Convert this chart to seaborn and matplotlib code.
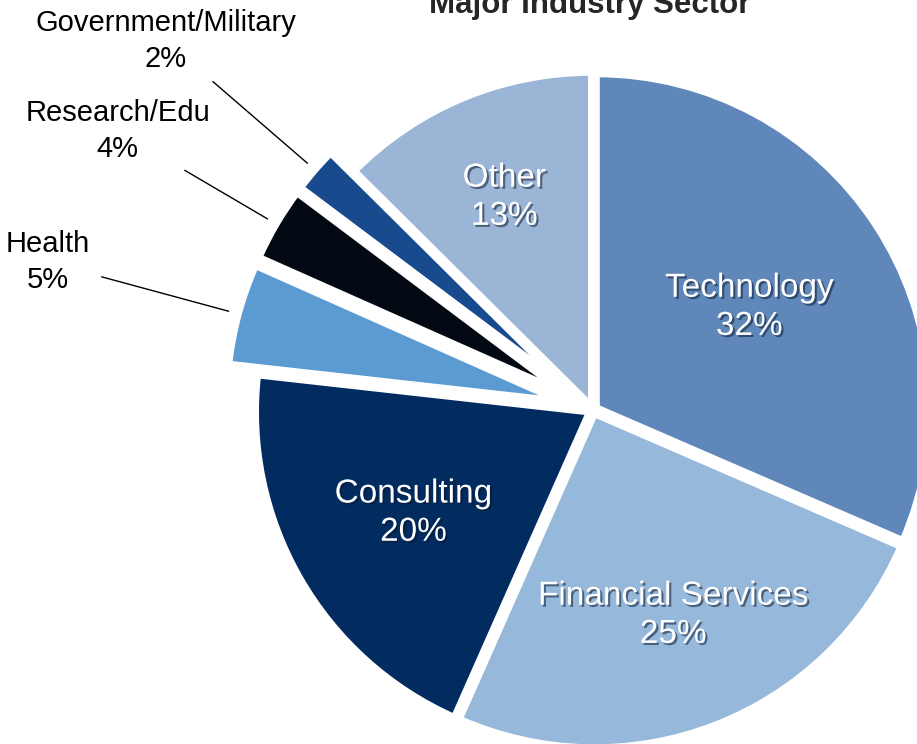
import numpy as np
import matplotlib
matplotlib.use("Agg")
import matplotlib.pyplot as plt
import matplotlib.patheffects as pe
import seaborn as sns

sectors = ["Technology", "Financial Services", "Consulting", "Health",
           "Research/Edu", "Government/Military", "Other"]
# shares; the printed labels are these rounded
shares = [31.6, 25.2, 20.2, 4.9, 3.6, 2.2, 12.6]
palette = ["#5f87b9", "#95b8db", "#022b60", "#5b9bd1",
           "#030912", "#174b8e", "#9bb5d6"]
explode = [0.012, 0.012, 0.012, 0.1, 0.1, 0.1, 0.012]

# slices labelled inside vs. with leader lines (radial distance of label)
inside = {"Technology": 0.56, "Financial Services": 0.66, "Consulting": 0.62, "Other": 0.69}
outside = {"Health": 1.69, "Research/Edu": 1.65, "Government/Military": 1.69}

sns.set_style("white")
plt.rcParams["font.family"] = ["Liberation Sans", "DejaVu Sans"]

W, H = 917, 744
cx, cy, unit = 593, 410, 334  # pie centre and radius in pixels

fig = plt.figure(figsize=(W / 100, H / 100), dpi=100)
ax = fig.add_axes([0, 0, 1, 1])

wedges, _ = ax.pie(shares, colors=palette, startangle=90, counterclock=False,
                   explode=explode, radius=1,
                   wedgeprops=dict(edgecolor="white", linewidth=5))

ax.set_xlim(-cx / unit, (W - cx) / unit)
ax.set_ylim(-(H - cy) / unit, cy / unit)
ax.set_aspect("equal")
ax.axis("off")

shadow = [pe.withSimplePatchShadow(offset=(1.5, -1.5), shadow_rgbFace="#0b1a30", alpha=0.55)]

for w, name, val in zip(wedges, sectors, shares):
    mid = np.deg2rad((w.theta1 + w.theta2) / 2)
    d = np.array([np.cos(mid), np.sin(mid)])
    label = f"{name}\n{round(val)}%"
    if name in inside:
        x, y = d * inside[name]
        ax.text(x, y, label, ha="center", va="center", color="white",
                fontsize=24, linespacing=1.3, path_effects=shadow)
    else:
        ax.annotate(label, xy=d * 1.13, xytext=d * outside[name],
                    ha="center", va="center", fontsize=21, linespacing=1.35,
                    color="black",
                    arrowprops=dict(arrowstyle="-", color="black", lw=1,
                                    shrinkA=6, shrinkB=0))

fig.text(589.5 / W, 1 - 13 / H, "Major Industry Sector", ha="center",
         va="baseline", fontsize=22.5, fontweight="bold")

fig.savefig("out.png", dpi=100)
